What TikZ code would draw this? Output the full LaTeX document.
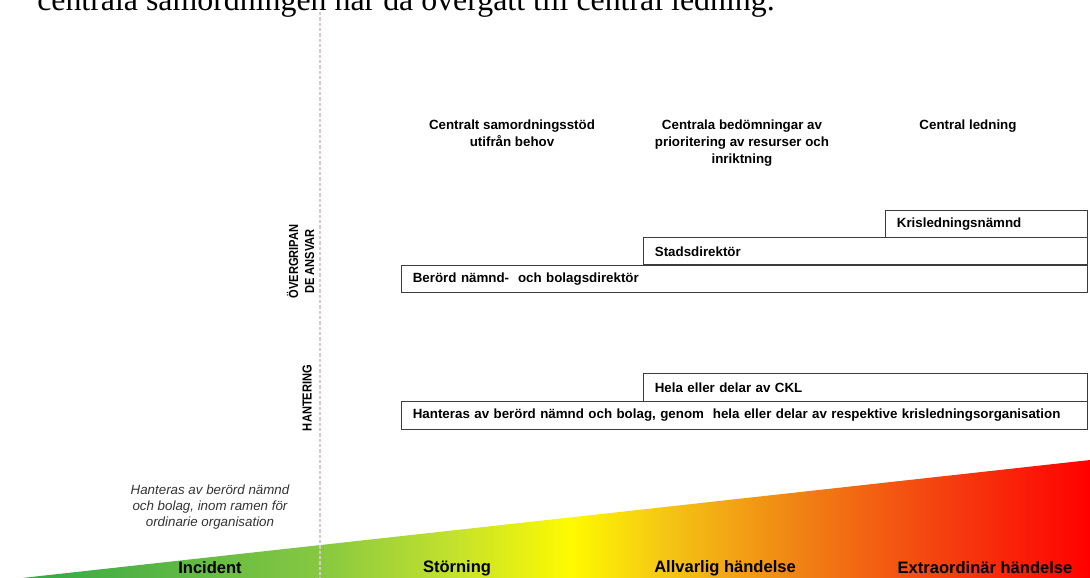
\documentclass[tikz,border=0pt]{standalone}
\usepackage{fontspec}
\setmainfont{Liberation Sans}
\newfontfamily\narrowfont[FakeStretch=0.85]{Liberation Sans}
\newfontfamily\serifface{Liberation Serif}
\definecolor{boxline}{HTML}{3C3C3C}
\definecolor{dashgray}{HTML}{DCC8CC}
\definecolor{italgray}{HTML}{333333}
\definecolor{gA}{RGB}{50,168,70}
\definecolor{gB}{RGB}{135,200,65}
\definecolor{gC}{RGB}{195,225,45}
\definecolor{gD}{RGB}{255,250,0}
\definecolor{gE}{RGB}{245,200,20}
\definecolor{gF}{RGB}{240,130,20}
\definecolor{gG}{RGB}{245,60,15}
\definecolor{gH}{RGB}{255,0,0}
\pgfdeclarehorizontalshading{severity}{100bp}{color(0bp)=(gA); color(25bp)=(gA); color(39bp)=(gB); color(45.1bp)=(gC); color(50.7bp)=(gD); color(54.9bp)=(gE); color(61.4bp)=(gF); color(68.5bp)=(gG); color(75bp)=(gH); color(100bp)=(gH)}
\tikzset{
  box/.style={draw=boxline, line width=0.8pt, anchor=north west, inner xsep=8.5pt, inner ysep=0pt,
    align=left, font=\bfseries\fontsize{10pt}{12pt}\selectfont},
  hdr/.style={anchor=north, align=center, inner sep=0pt, font=\bfseries\fontsize{10pt}{12.6pt}\selectfont},
  rotlabel/.style={rotate=90, align=center, font=\narrowfont\bfseries\fontsize{9.8pt}{12pt}\selectfont},
  ital/.style={align=center, text=italgray, font=\itshape\fontsize{10pt}{12.2pt}\selectfont},
  level/.style={font=\bfseries\fontsize{12.4pt}{14pt}\selectfont},
  divider/.style={draw=dashgray, line width=0.8pt, dash pattern=on 2.5pt off 1.5pt}
}
\begin{document}
\begin{tikzpicture}[x=0.75pt, y=-0.75pt]
\useasboundingbox (0,0) rectangle (1090,578);
\begin{scope}
\clip (0,0) rectangle (1090,578);
% cut-off caption line at the top
\node[anchor=base west, inner sep=0, font=\serifface\fontsize{23.9pt}{28pt}\selectfont] (cap) at (37,11) {centrala samordningen har då övergått till central ledning.};
% severity wedge
\path[shading=severity] (22,578) -- (1090,460) -- (1090,578) -- cycle;
\end{scope}
% dashed divider
\coordinate (dtop) at (320,12);
\coordinate (dbot) at (320,578);
\draw[divider] (dtop) -- (dbot);
% column headers
\node[hdr] (h1) at (512,120) {Centralt samordningsstöd\\utifrån behov};
\node[hdr] (h2) at (742,120) {Centrala bedömningar av\\prioritering av resurser och\\inriktning};
\node[hdr] (h3) at (968,120) {Central ledning};
% row labels
\node[rotlabel] (ov) at (300.5,261.5) {ÖVERGRIPAN\\DE ANSVAR};
\node[rotlabel] (ha) at (307,398) {HANTERING};
% responsibility boxes
\node[box, text width=134.5pt, minimum height=20.25pt] (kris) at (885,210) {Krisledningsnämnd};
\node[box, text width=316pt, minimum height=20.6pt] (stad) at (643,237) {Stadsdirektör};
\node[box, text width=497.5pt, minimum height=20.6pt] (bero) at (401,264.5) {Berörd nämnd-\ \ och bolagsdirektör};
\node[box, text width=316pt, minimum height=21pt] (ckl) at (643,373) {Hela eller delar av CKL};
\node[box, text width=497.5pt, minimum height=21pt] (hant) at (401,401) {Hanteras av berörd nämnd och bolag, genom\ \ hela eller delar av respektive krisledningsorganisation};
% incident note
\node[ital] (note) at (210,507) {Hanteras av berörd nämnd\\och bolag, inom ramen för\\ordinarie organisation};
% severity levels
\node[level] (l1) at (210,568) {Incident};
\node[level] (l2) at (457,568) {Störning};
\node[level] (l3) at (725,568) {Allvarlig händelse};
\node[level] (l4) at (985,568) {Extraordinär händelse};
\end{tikzpicture}
\end{document}
